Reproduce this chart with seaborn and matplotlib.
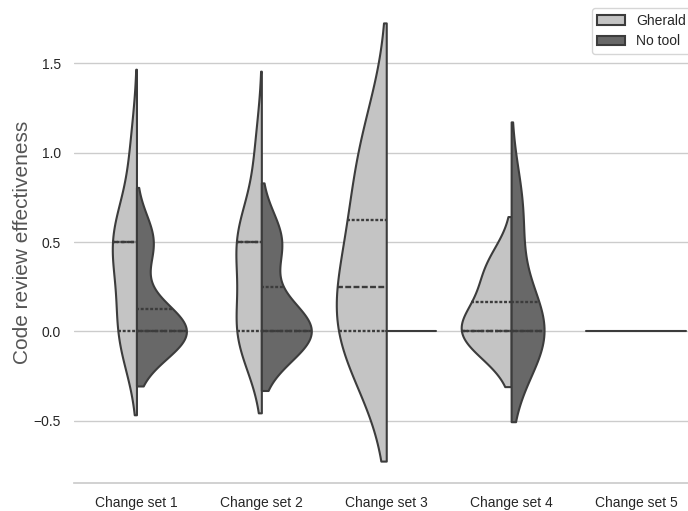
import seaborn as sns
import matplotlib.pyplot as plt
import pandas as pd

# effectiveness scores per change set and tool condition
sets = ['Change set 1', 'Change set 2', 'Change set 3', 'Change set 4', 'Change set 5']
tools = ['Gherald', 'No tool']

gherald = {
    'Change set 1': [0, 0, 0, 0.5, 0.5, 0.5, 0.5, 1],
    'Change set 2': [0, 0, 0, 0, 0.5, 0.5, 0.5, 0.5, 1],
    'Change set 3': [0, 0, 0.5, 1],
    'Change set 4': [0, 0, 1/3],
    'Change set 5': [0, 0, 0],
}
no_tool = {
    'Change set 1': [0, 0, 0, 0, 0, 0, 0.5, 0.5],
    'Change set 2': [0, 0, 0, 0, 0, 0.5, 0.5],
    'Change set 3': [0, 0, 0],
    'Change set 4': [0, 0, 0, 2/3],
    'Change set 5': [0, 0, 0],
}

rows = []
for tool, groups in zip(tools, [gherald, no_tool]):
    for s in sets:
        for v in groups[s]:
            rows.append({'set': s, 'tool': tool, 'score': v})
df = pd.DataFrame(rows)

sns.set_theme(style='whitegrid')
plt.rcParams['font.family'] = ['Liberation Sans', 'DejaVu Sans']

fig = plt.figure(figsize=(6.88, 5.11), dpi=100)
ax = fig.add_axes([74/688, 28/511, 624.5/688, 482/511])

opts = dict(x='set', y='score', hue='tool', order=sets, hue_order=tools,
            split=True, dodge=True, inner='quartile', common_norm=True,
            palette=['#c4c4c4', '#686868'], linecolor='#3c3c3c', linewidth=1.5,
            inner_kws=dict(linewidth=1.7), ax=ax)

# widths are scaled within each change set, so draw one set at a time;
# zero-variance halves go in their own call so they don't squash the other half
first = True
for s in sets:
    sub = df[df['set'] == s]
    flat = sub.groupby('tool')['score'].transform('nunique') == 1
    for part in [sub[~flat], sub[flat]]:
        if len(part) == 0:
            continue
        sns.violinplot(data=part, legend=first, **opts)
        first = False

sns.despine(ax=ax, left=True)
ax.spines['bottom'].set_color('#cccccc')
ax.set_xlabel('')
ax.set_ylabel('Code review effectiveness', fontsize=15, color='#555555', labelpad=1)
ax.tick_params(axis='both', labelsize=10, colors='#262626')
ax.set_yticks([-0.5, 0.0, 0.5, 1.0, 1.5])
sns.move_legend(ax, 'upper right', title=None, fontsize=10)

fig.savefig('out.png', dpi=100)
